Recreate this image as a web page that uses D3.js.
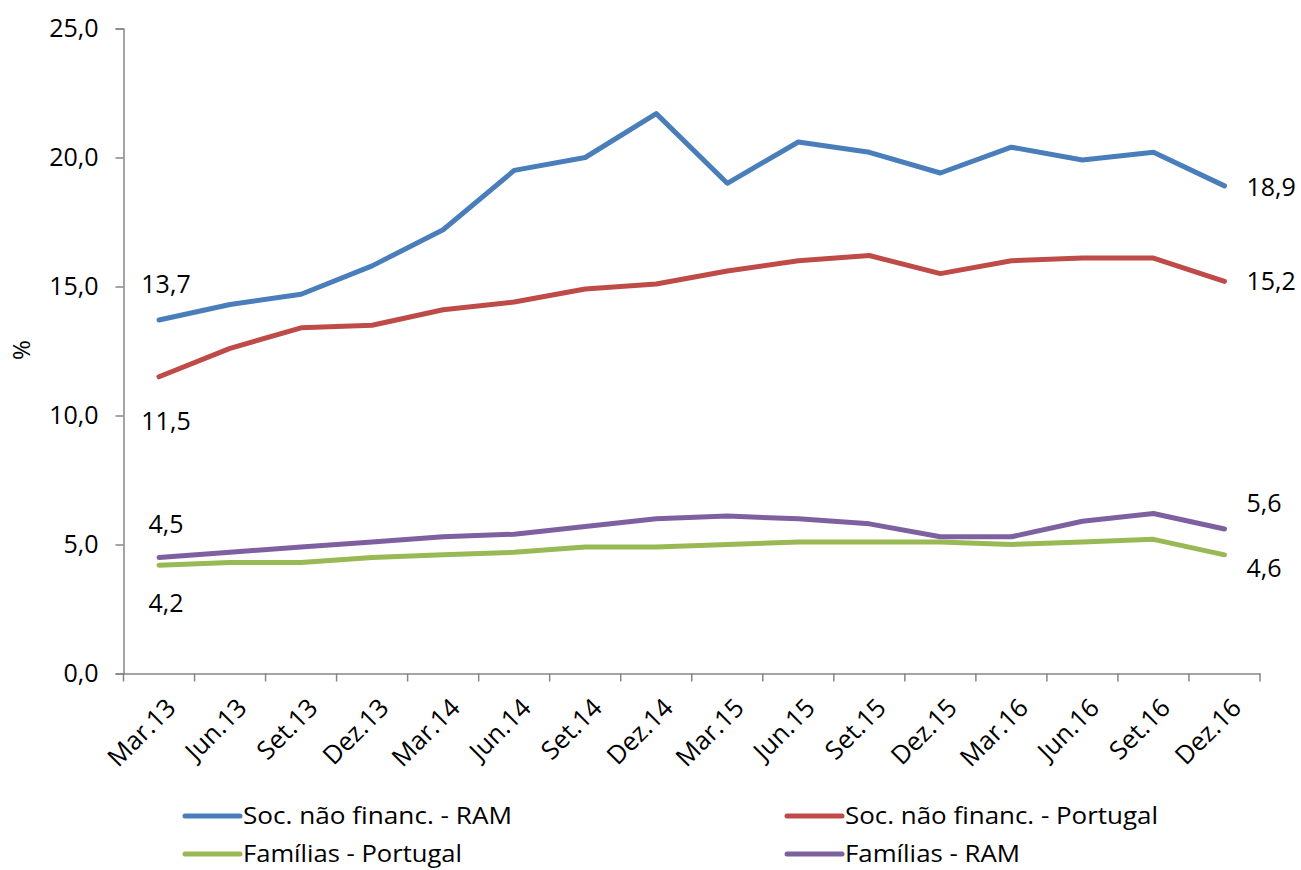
<!DOCTYPE html>
<html><head><meta charset="utf-8">
<script src="https://cdn.jsdelivr.net/npm/d3@7"></script>
<style>body{margin:0;background:#fff}svg{display:block}text{font-family:"Open Sans",sans-serif;fill:#000}</style>
</head><body>
<script>
const categories = ["Mar.13","Jun.13","Set.13","Dez.13","Mar.14","Jun.14","Set.14","Dez.14","Mar.15","Jun.15","Set.15","Dez.15","Mar.16","Jun.16","Set.16","Dez.16"];
const socRAM = [13.7,14.3,14.7,15.8,17.2,19.5,20.0,21.7,19.0,20.6,20.2,19.4,20.4,19.9,20.2,18.9];
const socPT  = [11.5,12.6,13.4,13.5,14.1,14.4,14.9,15.1,15.6,16.0,16.2,15.5,16.0,16.1,16.1,15.2];
const famPT  = [4.2,4.3,4.3,4.5,4.6,4.7,4.9,4.9,5.0,5.1,5.1,5.1,5.0,5.1,5.2,4.6];
const famRAM = [4.5,4.7,4.9,5.1,5.3,5.4,5.7,6.0,6.1,6.0,5.8,5.3,5.3,5.9,6.2,5.6];
const yTicks = [0,5,10,15,20,25];
const seriesNames = ["Soc. não financ. - RAM","Soc. não financ. - Portugal","Famílias - Portugal","Famílias - RAM"];
const seriesColors = ["#4a7ebb","#be4b48","#98b954","#7d60a0"];
const seriesData = [socRAM, socPT, famPT, famRAM];

const W=1301,H=870;
const svg=d3.select("body").append("svg").attr("width",W).attr("height",H);
const x=d3.scaleBand().domain(categories).range([123.5,1260]);
const y=d3.scaleLinear().domain([0,25]).range([673.5,28.5]);
const fmt=v=>d3.format(".1f")(v).replace(".",",");

// y axis
const ya=svg.append("g").attr("transform","translate(123.5,0)")
  .call(d3.axisLeft(y).tickValues(yTicks).tickSize(8).tickFormat(fmt));
ya.select(".domain").attr("stroke","#868686").attr("stroke-width",1.5);
ya.selectAll(".tick line").attr("stroke","#868686").attr("stroke-width",1.5);
ya.selectAll(".tick text").attr("x",-25).attr("font-size",25).style("font-family","'Open Sans',sans-serif");

// x axis
const xa=svg.append("g").attr("transform","translate(0,673.5)")
  .call(d3.axisBottom(x).tickSize(0).tickFormat(""));
xa.select(".domain").attr("stroke","#868686").attr("stroke-width",1.5);
const tickPos=categories.map(c=>x(c)).concat([x.range()[1]]);
xa.selectAll("line.t").data(tickPos).enter().append("line").attr("class","t")
  .attr("x1",d=>d).attr("x2",d=>d).attr("y1",0).attr("y2",8).attr("stroke","#868686").attr("stroke-width",1.5);
svg.append("g").selectAll("text").data(categories).enter().append("text")
  .attr("transform",d=>`translate(${x(d)+x.bandwidth()/2+12},${703}) rotate(-45)`)
  .attr("text-anchor","end").attr("dy","0.35em").attr("font-size",25.5).text(d=>d);

// y title
svg.append("text").attr("transform","translate(22,350) rotate(-90)").attr("text-anchor","middle")
  .attr("dy","0.35em").attr("font-size",24).text("%");

// lines
const line=d3.line().x((d,i)=>x(categories[i])+x.bandwidth()/2).y(d=>y(d));
seriesData.forEach((s,k)=>{
  svg.append("path").datum(s).attr("d",line).attr("fill","none").attr("stroke",seriesColors[k])
    .attr("stroke-width",5).attr("stroke-linejoin","round").attr("stroke-linecap","round");
});

// data labels
const first=categories[0], last=categories[categories.length-1];
const cx0=x(first)+x.bandwidth()/2, cxN=x(last)+x.bandwidth()/2;
const startOff=[-36,+44,+38,-33];
const endOff=[1,0,+13,-26];
seriesData.forEach((s,k)=>{
  svg.append("text").attr("x",cx0+7).attr("y",y(s[0])+startOff[k]).attr("text-anchor","middle").attr("dy","0.35em")
    .attr("font-size",25).text(fmt(s[0]));
  svg.append("text").attr("x",cxN+22).attr("y",y(s[s.length-1])+endOff[k]).attr("dy","0.35em")
    .attr("font-size",25).text(fmt(s[s.length-1]));
});

// legend
const legPos=[[185,816],[787,816],[185,854],[787,854]];
const legW=[269,313,219,175];
seriesNames.forEach((n,k)=>{
  const [lx,ly]=legPos[k];
  svg.append("line").attr("x1",lx).attr("x2",lx+55).attr("y1",ly).attr("y2",ly)
    .attr("stroke",seriesColors[k]).attr("stroke-width",5).attr("stroke-linecap","round");
  svg.append("text").attr("x",lx+58).attr("y",ly).attr("dy","0.35em").attr("font-size",24)
    .attr("textLength",legW[k]).attr("lengthAdjust","spacingAndGlyphs").text(n);
});
</script>
</body></html>
